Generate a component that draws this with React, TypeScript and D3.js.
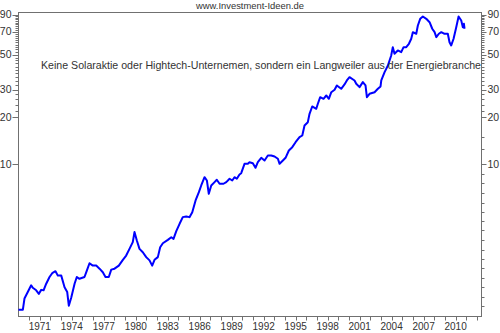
import React from "react";
import * as d3 from "d3";

const years = [
  1969.0, 1969.41, 1969.56, 1969.87, 1970.19, 1970.34, 1970.66, 1970.91, 1971.13, 1971.35,
  1971.6, 1971.91, 1972.16, 1972.47, 1972.69, 1973.01, 1973.32, 1973.57, 1973.72, 1973.95,
  1974.26, 1974.47, 1974.72, 1975.19, 1975.41, 1975.66, 1975.97, 1976.29, 1976.6, 1976.91,
  1977.16, 1977.47, 1977.7, 1978.01, 1978.41, 1978.79, 1979.1, 1979.41, 1979.72, 1979.88,
  1980.1, 1980.35, 1980.66, 1980.98, 1981.29, 1981.54, 1981.76, 1982.07, 1982.29, 1982.54,
  1983.01, 1983.33, 1983.54, 1983.8, 1984.11, 1984.41, 1984.73, 1985.04, 1985.3, 1985.61,
  1985.92, 1986.14, 1986.45, 1986.67, 1986.85, 1987.08, 1987.39, 1987.6, 1987.86, 1988.23,
  1988.49, 1988.8, 1989.05, 1989.26, 1989.48, 1989.73, 1989.89, 1990.2, 1990.51, 1990.67,
  1990.98, 1991.23, 1991.45, 1991.77, 1992.08, 1992.39, 1992.71, 1993.02, 1993.33, 1993.49,
  1993.8, 1994.05, 1994.36, 1994.68, 1994.99, 1995.36, 1995.62, 1995.83, 1996.14, 1996.3,
  1996.55, 1996.93, 1997.08, 1997.3, 1997.61, 1997.87, 1998.11, 1998.34, 1998.65, 1998.86,
  1999.27, 1999.58, 1999.8, 2000.05, 2000.52, 2000.68, 2000.99, 2001.3, 2001.55, 2001.68,
  2001.93, 2002.4, 2002.71, 2002.96, 2003.03, 2003.34, 2003.65, 2003.96, 2004.11, 2004.27,
  2004.58, 2004.9, 2005.12, 2005.37, 2005.62, 2005.84, 2005.99, 2006.31, 2006.46, 2006.68,
  2006.93, 2007.25, 2007.56, 2007.81, 2008.03, 2008.19, 2008.43, 2008.66, 2008.96, 2009.27,
  2009.43, 2009.59, 2009.81, 2010.06, 2010.28, 2010.53, 2010.68, 2010.78, 2010.84,
];

const prices = [
  1.19, 1.19, 1.4, 1.54, 1.7, 1.64, 1.58, 1.5, 1.59, 1.58,
  1.74, 1.92, 2.03, 2.09, 1.96, 1.96, 1.65, 1.54, 1.26, 1.42,
  1.74, 1.92, 1.87, 1.92, 2.11, 2.35, 2.27, 2.27, 2.17, 2.06,
  1.92, 1.92, 2.14, 2.17, 2.27, 2.47, 2.63, 2.9, 3.2, 3.71,
  3.28, 2.9, 2.76, 2.57, 2.45, 2.27, 2.47, 2.57, 2.97, 3.15,
  3.31, 3.44, 3.36, 3.76, 4.19, 4.62, 4.67, 4.62, 4.97, 5.9,
  6.66, 7.35, 8.3, 7.91, 6.51, 7.35, 7.72, 7.99, 7.54, 7.54,
  7.72, 8.11, 7.91, 8.3, 8.11, 8.64, 8.8, 10.1, 10.1, 10.34,
  10.19, 9.53, 10.34, 11.03, 10.6, 11.41, 11.41, 11.25, 10.87, 10.1,
  10.6, 11.03, 12.28, 12.89, 13.87, 14.93, 15.3, 17.72, 18.6, 21.03,
  23.41, 22.63, 24.36, 26.84, 26.21, 27.51, 26.21, 28.87, 29.91, 31.86,
  30.35, 32.33, 34.28, 35.97, 34.28, 32.66, 31.08, 33.44, 31.86, 26.84,
  28.2, 28.87, 30.35, 31.4, 34.28, 38.72, 42.72, 49.48, 55.86, 50.72,
  53.23, 51.93, 55.86, 55.86, 58.72, 63.19, 69.62, 68.01, 76.8, 84.7,
  87.6, 84.7, 80.6, 73.2, 69.62, 64.7, 68.01, 69.62, 68.0, 68.0,
  60.1, 57.3, 63.2, 74.9, 87.6, 82.6, 74.9, 78.7, 73.2,
];

const yTickValues = [10, 20, 30, 50, 70, 90];
const yMinorLeft = [22, 24, 26, 28, 32, 34, 36, 38, 40, 42, 44, 46, 48, 52, 54, 56, 58, 60, 62, 64, 66, 68, 72, 74, 76, 78, 80, 82, 84, 86, 88];
const yMinorRight = [12.5, 15, 22, 24, 26, 28, 32, 34, 36, 38, 40, 42, 44, 46, 48, 52, 54, 56, 58, 60, 62, 64, 66, 68, 72, 74, 76, 78, 80, 82, 84, 86, 88,
  8.7, 7.6, 6.6, 5.7, 5, 4.35, 3.8, 3.3, 2.87, 2.5, 2.18, 1.9, 1.65, 1.44, 1.25];
const xLabelYears = [1971, 1974, 1977, 1980, 1983, 1986, 1989, 1992, 1995, 1998, 2001, 2004, 2007, 2010];
const xTickYears = d3.range(1970, 2013);

const titleText = "www.Investment-Ideen.de";
const noteText = "Keine Solaraktie oder Hightech-Unternemen, sondern ein Langweiler aus der Energiebranche";

export default function App() {
  const W = 500, H = 333;
  const L = 18.5, R = 481.5, T = 12.5, B = 316.5;
  const x = d3.scaleLinear().domain([1969.0, 2012.43]).range([L, R]);
  const y = d3.scaleLog().domain([1.076, 92.9]).range([B, T]);
  const pts = years.map((yr, i) => [yr, prices[i]] as [number, number]);
  const line = d3.line<[number, number]>().x(d => x(d[0])).y(d => y(d[1]));
  const font = "'Liberation Sans', Arial, sans-serif";
  const axisColor = "#707070";
  const textColor = "#333";

  return (
    <svg width={W} height={H} style={{ position: "absolute", left: 0, top: 0, background: "#fff" }} fontFamily={font}>
      <rect x={0} y={0} width={W} height={H} fill="#fff" />
      <text x={250} y={8.5} fontSize={9} textAnchor="middle" fill={textColor} textLength={108} lengthAdjust="spacingAndGlyphs">{titleText}</text>
      {/* frame */}
      <rect x={L} y={T} width={R - L} height={B - T} fill="none" stroke={axisColor} strokeWidth={1} />
      {yTickValues.map(v => (
        <g key={"l" + v}>
          <line x1={L - 6} x2={L} y1={Math.round(y(v)) + 0.5} y2={Math.round(y(v)) + 0.5} stroke={axisColor} />
          <text x={L - 7} y={y(v)} dy="0.35em" fontSize={10.5} textAnchor="end" fill={textColor}>{v}</text>
          <line x1={R} x2={R + 5} y1={Math.round(y(v)) + 0.5} y2={Math.round(y(v)) + 0.5} stroke={axisColor} />
          <text x={R + 6} y={y(v)} dy="0.35em" fontSize={10.5} textAnchor="start" fill={textColor}>{v}</text>
        </g>
      ))}
      {yMinorLeft.map(v => (
        <line key={"ml" + v} x1={L - 3} x2={L} y1={Math.round(y(v)) + 0.5} y2={Math.round(y(v)) + 0.5} stroke={axisColor} />
      ))}
      {yMinorRight.map(v => (
        <line key={"mr" + v} x1={R} x2={R + 3} y1={Math.round(y(v)) + 0.5} y2={Math.round(y(v)) + 0.5} stroke={axisColor} />
      ))}
      {xTickYears.map(yr => (
        <line key={"xt" + yr} x1={Math.round(x(yr)) + 0.5} x2={Math.round(x(yr)) + 0.5} y1={B} y2={B + 4} stroke={axisColor} />
      ))}
      {xLabelYears.map(yr => (
        <text key={"xl" + yr} x={x(yr)} y={330} fontSize={10} textAnchor="middle" fill={textColor}>{yr}</text>
      ))}
      <path d={line(pts) || ""} fill="none" stroke="#0000ff" strokeWidth={2} strokeLinejoin="round" />
      <text x={41} y={68.5} fontSize={10.2} fill={textColor} textLength={440} lengthAdjust="spacingAndGlyphs">{noteText}</text>
    </svg>
  );
}
